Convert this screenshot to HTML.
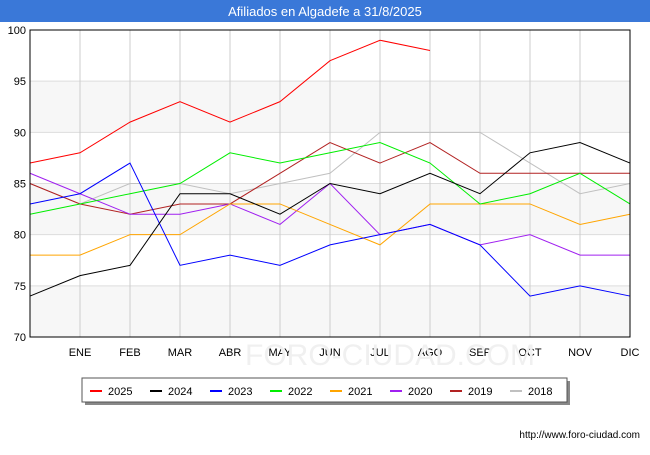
<!DOCTYPE html>
<html><head><meta charset="utf-8"><style>
body{margin:0;width:650px;height:450px;background:#fff;font-family:"Liberation Sans",sans-serif;overflow:hidden}
</style></head><body>
<svg id="c" width="650" height="450" xmlns="http://www.w3.org/2000/svg">
<rect x="0" y="0" width="650" height="22" fill="#3a78d8"/>
<text x="325" y="16" text-anchor="middle" fill="#fff" font-size="13">Afiliados en Algadefe a 31/8/2025</text>
<g id="grid"></g>
<text x="390" y="365" font-size="30" fill="#f0f0f0" text-anchor="middle">FORO-CIUDAD.COM</text>
<g id="series"></g><g id="axes"></g>
<rect x="85" y="381" width="485" height="24" fill="#888"/>
<rect x="82" y="378" width="485" height="24" fill="#fff" stroke="#555"/>
<g id="legend"></g>
<text x="640" y="438" text-anchor="end" font-size="10" fill="#000">http://www.foro-ciudad.com</text>
</svg>
<script>
const months=["","ENE","FEB","MAR","ABR","MAY","JUN","JUL","AGO","SEP","OCT","NOV","DIC"];
const yTicks=[70,75,80,85,90,95,100];
const names=["2025","2024","2023","2022","2021","2020","2019","2018"];
const colors=["#ff0000","#000000","#0000ff","#00ee00","#ffa500","#a020f0","#b22222","#c0c0c0"];
const s2025=[87,88,91,93,91,93,97,99,98];
const s2024=[74,76,77,84,84,82,85,84,86,84,88,89,87];
const s2023=[83,84,87,77,78,77,79,80,81,79,74,75,74];
const s2022=[82,83,84,85,88,87,88,89,87,83,84,86,83];
const s2021=[78,78,80,80,83,83,81,79,83,83,83,81,82];
const s2020=[86,84,82,82,83,81,85,80,81,79,80,78,78];
const s2019=[85,83,82,83,83,86,89,87,89,86,86,86,86];
const s2018=[85,83,85,85,84,85,86,90,90,90,87,84,85];
const allSeries=[s2025,s2024,s2023,s2022,s2021,s2020,s2019,s2018];
const X0=30,X1=630,Y0=337,Y1=30,ymin=70,ymax=100;
const xs=i=>X0+i*(X1-X0)/12;
const ys=v=>Y0-(v-ymin)*(Y0-Y1)/(ymax-ymin);
const NS="http://www.w3.org/2000/svg";
function mk(t,a,p){const e=document.createElementNS(NS,t);for(const k in a)e.setAttribute(k,a[k]);p.appendChild(e);return e;}
const g=document.getElementById('grid');
for(let v=70;v<100;v+=10){
 const r=mk('rect',{x:X0,y:ys(v+5),width:X1-X0,height:ys(v)-ys(v+5),fill:'#f7f7f7'},g);
 
 
}
yTicks.forEach(v=>{
 const l=mk('line',{x1:X0,x2:X1,y1:ys(v),y2:ys(v),stroke:'#ddd'},g);
 
 
 const t=mk('text',{x:X0-4,y:ys(v)+4,'text-anchor':'end','font-size':11},g);t.textContent=v;
 
 
});
months.forEach((m,i)=>{
 const l=mk('line',{x1:xs(i),x2:xs(i),y1:Y1,y2:Y0,stroke:'#ccc'},g);
 
 
 if(m){const t=mk('text',{x:xs(i),y:356,'text-anchor':'middle','font-size':11},g);t.textContent=m;
 
 }
});
const a=document.getElementById('axes');
const fr=mk('rect',{x:X0,y:Y1,width:X1-X0,height:Y0-Y1,fill:'none',stroke:'#000'},a);


const sg=document.getElementById('series');
for(let k=allSeries.length-1;k>=0;k--){
 const p=mk('polyline',{points:allSeries[k].map((v,i)=>xs(i)+','+ys(v)).join(' '),fill:'none',stroke:colors[k],'stroke-width':1},sg);
 
 
}
const lg=document.getElementById('legend');
names.forEach((n,k)=>{
 const x=90+k*60;
 const l=mk('line',{x1:x,x2:x+12,y1:391,y2:391,stroke:colors[k],'stroke-width':2},lg);
 
 
 const t=mk('text',{x:x+18,y:395,'font-size':11},lg);t.textContent=n;
 
 
});
</script>
</body></html>
